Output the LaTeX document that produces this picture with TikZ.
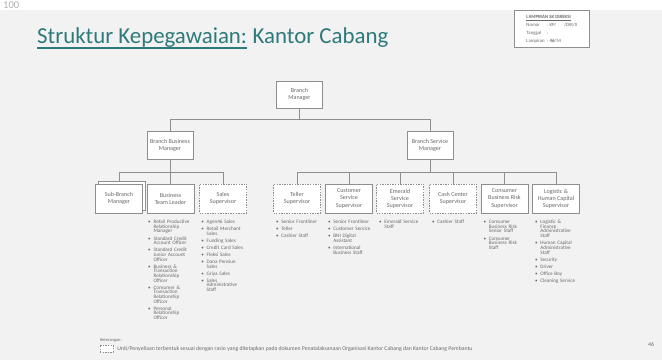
\documentclass[tikz,border=0pt]{standalone}
\usepackage{fontspec}
\setmainfont{Carlito}
\usetikzlibrary{positioning}

\definecolor{pagegray}{HTML}{F2F2F2}
\definecolor{linegray}{HTML}{8E8E8E}
\definecolor{textgray}{HTML}{6A6A6A}
\definecolor{titleteal}{HTML}{2E7A7B}

\newcommand\boxfont{\fontsize{5.2}{6}\selectfont}
\newcommand\lstfont{\fontsize{4.4}{4}\selectfont}
\newcommand\itm[1]{\par\hangindent=1.6mm\hangafter=1\noindent\hbox to 1.6mm{\textbullet\hfil}#1\par\vspace{2pt}}

\tikzset{
  orgbox/.style={draw=linegray, line width=0.6pt, fill=white, text=textgray, font=\boxfont,
    align=center, minimum width=1.41cm, minimum height=0.87cm, inner sep=1pt},
  orgboxd/.style={orgbox, dash pattern=on 1.2pt off 1pt},
  conn/.style={draw=linegray, line width=0.8pt},
  lst/.style={text=textgray, font=\lstfont, text width=1.7cm, align=left, inner sep=0pt, anchor=north west},
}

\begin{document}
\begin{tikzpicture}[x=0.03cm,y=-0.03cm]
\useasboundingbox (0,0) rectangle (662,360);
\clip (0,0) rectangle (662,360);
\fill[white] (0,0) rectangle (662,10);
\fill[pagegray] (0,10) rectangle (662,360);
\node[anchor=base west, inner sep=0, text=linegray!70, font=\fontsize{9}{9}\selectfont] (prev) at (3,8.5) {100};

% title
\node[anchor=base west, inner sep=0, text=titleteal, font=\fontsize{19.5}{20}\selectfont] (title) at (37,43) {Struktur Kepegawaian:};
\node[anchor=base west, inner sep=0, text=titleteal, font=\fontsize{19.5}{20}\selectfont] (subtitle) at ([xshift=4.4pt]title.base east) {Kantor Cabang};
\draw[titleteal, line width=1.4pt] ([yshift=-4.2pt]title.base west) -- ([yshift=-4.2pt]title.base east);

% lampiran
\node[draw=linegray, line width=0.7pt, fill=white, anchor=north west, inner sep=2pt, text=textgray,
  font=\fontsize{4.1}{6.8}\selectfont, minimum width=2.25cm, minimum height=0.99cm] (lamp) at (514,10)
  {\begin{tabular}{@{}l@{\ \ }l@{}}
   \multicolumn{2}{@{}l@{}}{\textbf{\underline{LAMPIRAN SK DIREKSI}}}\\
   Nomor & : KP/\hspace{7pt}/DIR/X\\
   Tanggal & :\\
   Lampiran & : \textbf{46}/54
   \end{tabular}};

% level 1 and 2
\node[orgbox, minimum width=1.38cm, minimum height=0.81cm] (bm) at (299.5,94.5) {Branch\\Manager};
\node[orgbox, minimum width=1.38cm, minimum height=0.84cm] (bbm) at (170,145) {Branch Business\\Manager};
\node[orgbox, minimum width=1.38cm, minimum height=0.84cm] (bsm) at (430,145) {Branch Service\\Manager};

% level 3, business side
\node[orgbox] (sbmb) at (122,195.5) {};
\node[orgbox] (sbm) at (119,198.5) {Sub-Branch\\Manager};
\node[orgbox] (btl) at (170.5,198.5) {Business\\Team Leader};
\node[orgboxd] (sls) at (223,198.5) {Sales\\Supervisor};

% level 3, service side
\node[orgboxd] (tel) at (297,198.5) {Teller\\Supervisor};
\node[orgbox] (cs) at (349,198.5) {Customer\\Service\\Supervisor};
\node[orgboxd] (ems) at (400,198.5) {Emerald\\Service\\Supervisor};
\node[orgboxd] (ccs) at (453,198.5) {Cash Center\\Supervisor};
\node[orgbox] (cbr) at (504.5,198.5) {Consumer\\Business Risk\\Supervisor};
\node[orgbox] (lhc) at (556,198.5) {Logistic \&\\Human Capital\\Supervisor};

% connectors
\draw[conn] (bm.south) -- ++(0,11.5) coordinate (j0);
\draw[conn] (bbm.north) |- (j0) -| (bsm.north);
\draw[conn] (bbm.south) -- ++(0,13.5) coordinate (j1);
\draw[conn] (sbm.north |- sbmb.north) |- (j1) -| (sls.north);
\draw[conn] (btl.north) -- (btl.north |- j1);
\draw[conn] (bsm.south) -- ++(0,13.5) coordinate (j2);
\draw[conn] (tel.north) |- (j2) -| (lhc.north);
\foreach \n in {cs,ems,ccs,cbr}
  \draw[conn] (\n.north) -- (\n.north |- j2);

% staff lists
\node[lst] (btlL) at ([xshift=0.4mm,yshift=-1.6mm]btl.south west) {%
  \itm{Retail Productive\newline Relationship\newline Manager}
  \itm{Standard Credit\newline Account Officer}
  \itm{Standard Credit\newline Junior Account\newline Officer}
  \itm{Business \&\newline Transaction\newline Relationship\newline Officer}
  \itm{Consumer \&\newline Transaction\newline Relationship\newline Officer}
  \itm{Personal\newline Relationship\newline Officer}};
\node[lst] (slsL) at ([xshift=0.6mm,yshift=-1.6mm]sls.south west) {%
  \itm{Agen46 Sales}
  \itm{Retail Merchant\newline Sales}
  \itm{Funding Sales}
  \itm{Credit Card Sales}
  \itm{Fleksi Sales}
  \itm{Dana Pensiun\newline Sales}
  \itm{Griya Sales}
  \itm{Sales\newline Administrative\newline Staff}};
\node[lst] (telL) at ([xshift=0.8mm,yshift=-1.6mm]tel.south west) {%
  \itm{Senior Frontliner}
  \itm{Teller}
  \itm{Cashier Staff}};
\node[lst] (csL) at ([xshift=0.8mm,yshift=-1.6mm]cs.south west) {%
  \itm{Senior Frontliner}
  \itm{Customer Service}
  \itm{BNI Digital\newline Assistant}
  \itm{International\newline Business Staff}};
\node[lst] (emsL) at ([xshift=0.8mm,yshift=-1.6mm]ems.south west) {%
  \itm{Emerald Service\newline Staff}};
\node[lst] (ccsL) at ([xshift=0.8mm,yshift=-1.6mm]ccs.south west) {%
  \itm{Cashier Staff}};
\node[lst] (cbrL) at ([xshift=0.8mm,yshift=-1.6mm]cbr.south west) {%
  \itm{Consumer\newline Business Risk\newline Senior Staff}
  \itm{Consumer\newline Business Risk\newline Staff}};
\node[lst] (lhcL) at ([xshift=0.8mm,yshift=-1.6mm]lhc.south west) {%
  \itm{Logistic \&\newline Finance\newline Administrative\newline Staff}
  \itm{Human Capital\newline Administrative\newline Staff}
  \itm{Security}
  \itm{Driver}
  \itm{Office Boy}
  \itm{Cleaning Service}};

% legend
\node[orgboxd, line width=0.4pt, minimum width=0.39cm, minimum height=0.2cm, inner sep=0pt] (leg) at (106.5,348.5) {};
\node[anchor=south west, inner sep=0pt, text=textgray, font=\fontsize{3.8}{4}\selectfont] (legtitle) at ([yshift=2.2pt]leg.north west) {Keterangan:};
\node[right=1.2mm of leg, inner sep=0pt, text=textgray, font=\fontsize{4.9}{5}\selectfont] (legtxt)
  {Unit/Penyeliaan terbentuk sesuai dengan rasio yang ditetapkan pada dokumen Penatalaksanaan Organisasi Kantor Cabang dan Kantor Cabang Pembantu};
\node[inner sep=0pt, text=textgray, font=\fontsize{5}{5}\selectfont] (pageno) at (651,345) {46};
\end{tikzpicture}
\end{document}
